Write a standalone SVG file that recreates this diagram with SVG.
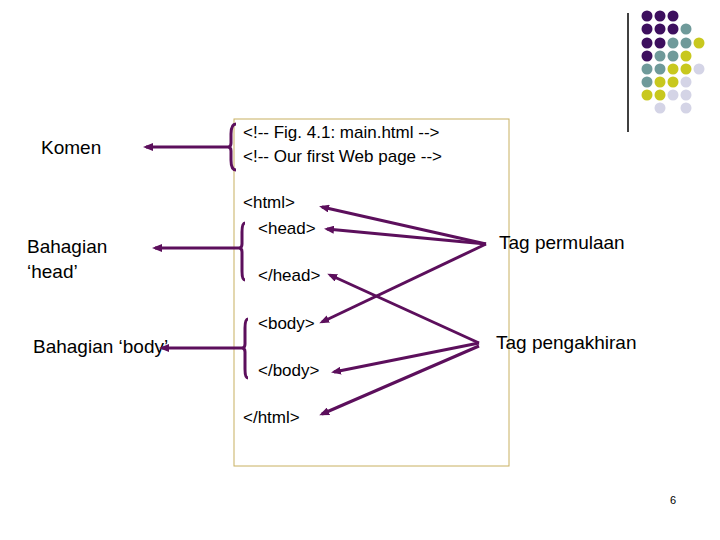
<svg xmlns="http://www.w3.org/2000/svg" width="720" height="540" viewBox="0 0 720 540">
<style>
text{font-family:"Liberation Sans",Arial,sans-serif;fill:#000}
.c{font-size:17px}
.l{font-size:19px}
.a{stroke:#5c0f5c;stroke-width:3;fill:none}
.b{stroke:#5c0f5c;stroke-width:3;fill:none}
.p{fill:#3d0f5e}.t{fill:#6f9a9a}.y{fill:#c8c81e}.v{fill:#d4d4e6}
</style>
<defs><marker id="ah" markerWidth="10" markerHeight="8" refX="7" refY="4" orient="auto" markerUnits="userSpaceOnUse"><path d="M0,0L10,4L0,8z" fill="#5c0f5c"/></marker></defs>
<rect width="720" height="540" fill="#fff"/>
<g id="deco">
<line x1="628" y1="13" x2="628" y2="132" stroke="#000" stroke-width="1.5"/>
<circle class="p" cx="647" cy="16" r="5.5"/><circle class="p" cx="660" cy="16" r="5.5"/><circle class="p" cx="673" cy="16" r="5.5"/>
<circle class="p" cx="647" cy="29" r="5.5"/><circle class="p" cx="660" cy="29" r="5.5"/><circle class="p" cx="673" cy="29" r="5.5"/><circle class="t" cx="686" cy="29" r="5.5"/>
<circle class="p" cx="647" cy="43" r="5.5"/><circle class="p" cx="660" cy="43" r="5.5"/><circle class="t" cx="673" cy="43" r="5.5"/><circle class="t" cx="686" cy="43" r="5.5"/><circle class="y" cx="699" cy="43" r="5.5"/>
<circle class="p" cx="647" cy="56" r="5.5"/><circle class="t" cx="660" cy="56" r="5.5"/><circle class="t" cx="673" cy="56" r="5.5"/><circle class="y" cx="686" cy="56" r="5.5"/>
<circle class="t" cx="647" cy="69" r="5.5"/><circle class="t" cx="660" cy="69" r="5.5"/><circle class="y" cx="673" cy="69" r="5.5"/><circle class="y" cx="686" cy="69" r="5.5"/><circle class="v" cx="699" cy="69" r="5.5"/>
<circle class="t" cx="647" cy="82" r="5.5"/><circle class="y" cx="660" cy="82" r="5.5"/><circle class="y" cx="673" cy="82" r="5.5"/><circle class="v" cx="686" cy="82" r="5.5"/>
<circle class="y" cx="647" cy="95" r="5.5"/><circle class="y" cx="660" cy="95" r="5.5"/><circle class="v" cx="673" cy="95" r="5.5"/><circle class="v" cx="686" cy="95" r="5.5"/>
<circle class="v" cx="660" cy="108" r="5.5"/><circle class="v" cx="686" cy="108" r="5.5"/>
</g>
<g id="codebox">
<rect x="234" y="119" width="275" height="347" fill="none" stroke="#c8b060" stroke-width="1"/>
<text class="c" x="243" y="138">&lt;!-- Fig. 4.1: main.html --&gt;</text>
<text class="c" x="243" y="162">&lt;!-- Our first Web page  --&gt;</text>
<text class="c" x="243" y="208">&lt;html&gt;</text>
<text class="c" x="258" y="234">&lt;head&gt;</text>
<text class="c" x="258" y="281">&lt;/head&gt;</text>
<text class="c" x="258" y="329">&lt;body&gt;</text>
<text class="c" x="258" y="376">&lt;/body&gt;</text>
<text class="c" x="243" y="423">&lt;/html&gt;</text>
</g>
<g id="labels">
<text class="l" x="41" y="154">Komen</text>
<text class="l" x="27" y="253">Bahagian</text>
<text class="l" x="27" y="278">‘head’</text>
<text class="l" x="33" y="353">Bahagian ‘body’</text>
<text class="l" x="499" y="249">Tag permulaan</text>
<text class="l" x="496" y="349">Tag pengakhiran</text>
<text x="670" y="504" font-size="11">6</text>
</g>
<g id="connectors">
<path class="b" d="M236,124 Q231,124 231,134 L231,143 Q231,147 228,147 Q231,147 231,151 L231,160 Q231,170 236,170"/>
<path class="b" d="M245,223 Q242,223 242,232 L242,244 Q242,248 239,248 Q242,248 242,252 L242,271 Q242,280 245,280"/>
<path class="b" d="M248,319 Q245,319 245,328 L245,344 Q245,348 242,348 Q245,348 245,352 L245,369 Q245,378 248,378"/>
<line class="a" x1="228" y1="147" x2="146" y2="147" marker-end="url(#ah)"/>
<line class="a" x1="239" y1="248" x2="155" y2="248" marker-end="url(#ah)"/>
<line class="a" x1="242" y1="348" x2="162" y2="348" marker-end="url(#ah)"/>
<line class="a" x1="486" y1="244" x2="322" y2="207" marker-end="url(#ah)"/>
<line class="a" x1="486" y1="244" x2="327" y2="229" marker-end="url(#ah)"/>
<line class="a" x1="486" y1="244" x2="322" y2="322" marker-end="url(#ah)"/>
<line class="a" x1="479" y1="343" x2="330" y2="275" marker-end="url(#ah)"/>
<line class="a" x1="479" y1="343" x2="334" y2="372" marker-end="url(#ah)"/>
<line class="a" x1="479" y1="346" x2="322" y2="414" marker-end="url(#ah)"/>
</g>
</svg>
